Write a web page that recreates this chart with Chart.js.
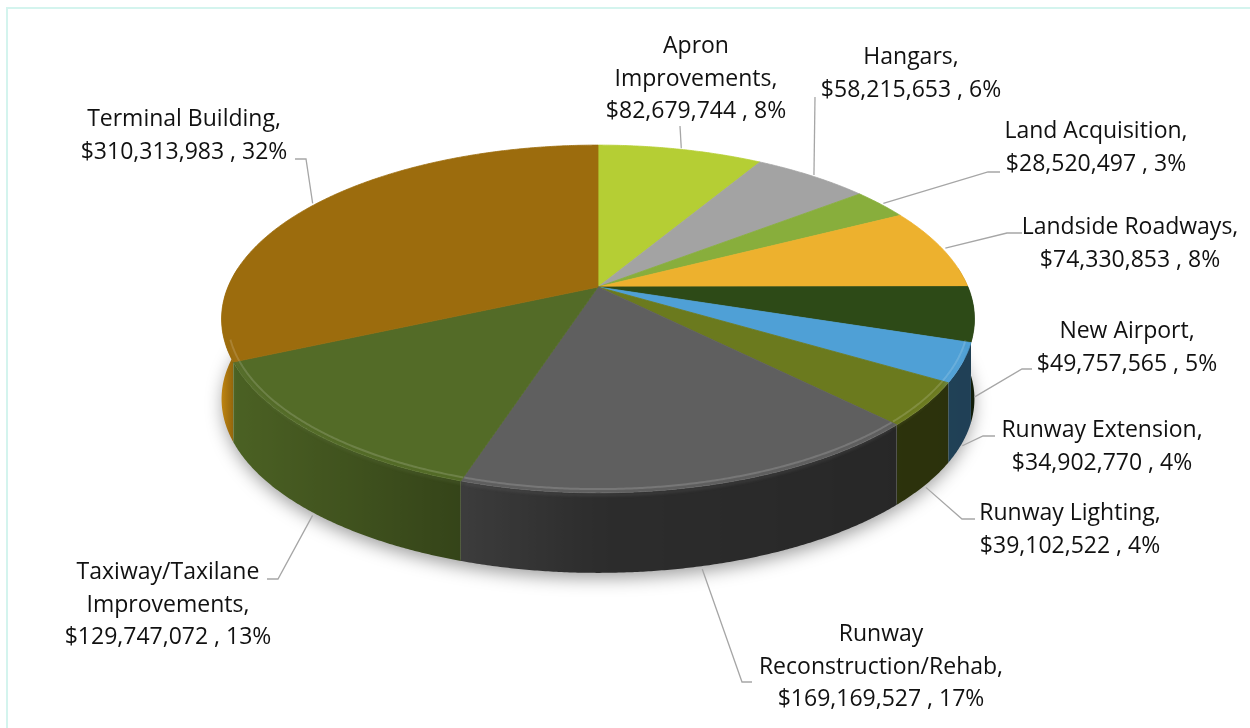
<!DOCTYPE html>
<html>
<head>
<meta charset="utf-8">
<title>Capital Improvement Costs by Project Type</title>
<script src="https://cdn.jsdelivr.net/npm/chart.js@4.4.1/dist/chart.umd.min.js"></script>
<style>
  html, body { margin: 0; padding: 0; background: #fff; }
  canvas { display: block; }
</style>
</head>
<body>
<canvas id="costChart" width="1250" height="728"></canvas>
<script>
/* ---------------------------------------------------------
   Data
--------------------------------------------------------- */
const categories = [
  "Apron Improvements",
  "Hangars",
  "Land Acquisition",
  "Landside Roadways",
  "New Airport",
  "Runway Extension",
  "Runway Lighting",
  "Runway Reconstruction/Rehab",
  "Taxiway/Taxilane Improvements",
  "Terminal Building",
];
const costs = [
  82679744, 58215653, 28520497, 74330853, 49757565,
  34902770, 39102522, 169169527, 129747072, 310313983,
];
const sliceColors = [
  "#B5CE34", "#A3A3A3", "#88AE3C", "#EDB12E", "#2D4A17",
  "#4FA0D6", "#6B7A1E", "#5F5F5F", "#536B27", "#9C6C0D",
];

/* ---------------------------------------------------------
   Layout: 3D projection + label placement (pixels)
--------------------------------------------------------- */
const GEO = { rx: 370, ry: 168, depth: 80, persp: 0.184 };
const FONT = '23px "Open Sans", "Liberation Sans", sans-serif';
const LINE_H = 32.7;

// label text block (centre x, first baseline y) and leader path after the anchor
const labelLayout = [
  { x: 696,  y: 53,  split: true, path: [[680, 126]] },
  { x: 911,  y: 64,  path: [[815, 97]] },
  { x: 1096, y: 138, path: [[988, 172], [1000, 172]] },
  { x: 1130, y: 234, path: [[1007, 233], [1022, 233]] },
  { x: 1127, y: 338, path: [[1022, 369], [1032, 369]] },
  { x: 1102, y: 437, path: [[983, 436], [995, 436]] },
  { x: 1070, y: 520, path: [[962, 519], [975, 519]] },
  { x: 881,  y: 641, split: true, path: [[742, 682], [752, 682]] },
  { x: 168,  y: 579, split: true, path: [[278, 579], [267, 579]] },
  { x: 184,  y: 126, path: [[306, 159], [295, 159]] },
];

/* ---------------------------------------------------------
   Colour helpers
--------------------------------------------------------- */
function rgbOf(hex) {
  const n = parseInt(hex.slice(1), 16);
  return [(n >> 16) & 255, (n >> 8) & 255, n & 255];
}
function shade(hex, f) {
  const c = rgbOf(hex).map((v) => Math.max(0, Math.min(255, Math.round(v * f))));
  return `rgb(${c[0]},${c[1]},${c[2]})`;
}
function tint(hex, t, alpha) {
  const c = rgbOf(hex).map((v) => Math.round(v + (255 - v) * t));
  return `rgba(${c[0]},${c[1]},${c[2]},${alpha})`;
}
// wall brightness: lit from the left (narrow glint on the far edge), dark on the right
function wallLight(u) {
  if (u >= 0) return 0.47 - 0.07 * u;
  const glint = Math.max(0, -u - 0.965) / 0.035;
  return 0.47 + 0.45 * -u + 0.3 * glint;
}
function money(v) {
  return "$" + v.toLocaleString("en-US");
}

/* ---------------------------------------------------------
   3D pie plugin: draws the library's arcs as a tilted disc
--------------------------------------------------------- */
const pie3d = {
  id: "pie3d",
  beforeDraw(chart) {
    const ctx = chart.ctx;
    ctx.save();
    ctx.fillStyle = "#fff";
    ctx.fillRect(0, 0, chart.width, chart.height);
    ctx.strokeStyle = "#D4F4EE";
    ctx.lineWidth = 2;
    ctx.strokeRect(7, 8, chart.width + 40, chart.height + 40);
    ctx.restore();
  },
  beforeDatasetsDraw(chart) {
    const ctx = chart.ctx;
    const arcs = chart.getDatasetMeta(0).data;
    const cx = arcs[0].x, cy = arcs[0].y;

    const proj = (a, r = 1, dz = 0) => {
      const u = Math.cos(a) * r, v = Math.sin(a) * r;
      const w = 1 / (1 - GEO.persp * v);
      return [cx + GEO.rx * u * w, cy + GEO.ry * v * w + dz];
    };
    const step = 0.006;

    ctx.save();

    // soft drop shadow under the disc
    ctx.beginPath();
    for (let a = 0; a <= Math.PI * 2 + step; a += step) {
      const [x, y] = proj(a, 0.995, GEO.depth);
      a === 0 ? ctx.moveTo(x, y) : ctx.lineTo(x, y);
    }
    ctx.closePath();
    ctx.shadowColor = "rgba(0,0,0,0.4)";
    ctx.shadowBlur = 18;
    ctx.shadowOffsetY = 6;
    ctx.fillStyle = "#fff";
    ctx.fill();
    ctx.shadowColor = "transparent";

    // side walls: one polygon per slice, visible part only, back to front
    const walls = [];
    arcs.forEach((arc, i) => {
      const pts = [];
      for (let a = arc.startAngle; a < arc.endAngle; a += step) {
        if (Math.sin(a) > -0.12) pts.push(a);
      }
      if (Math.sin(arc.endAngle) > -0.12) pts.push(arc.endAngle);
      if (pts.length < 2) return;
      const mid = (pts[0] + pts[pts.length - 1]) / 2;
      walls.push({ pts, v: Math.sin(mid), color: sliceColors[i] });
    });
    walls.sort((p, q) => p.v - q.v);
    const half = GEO.rx * 1.017;
    const gx0 = cx - half, gx1 = cx + half;
    walls.forEach((wl) => {
      ctx.beginPath();
      wl.pts.forEach((a, k) => {
        const [x, y] = proj(a);
        k === 0 ? ctx.moveTo(x, y) : ctx.lineTo(x, y);
      });
      for (let k = wl.pts.length - 1; k >= 0; k--) {
        const [x, y] = proj(wl.pts[k], 1, GEO.depth);
        ctx.lineTo(x, y);
      }
      ctx.closePath();
      const grad = ctx.createLinearGradient(gx0, 0, gx1, 0);
      const n = 200;
      for (let s = 0; s <= n; s++) {
        grad.addColorStop(s / n, shade(wl.color, wallLight(-1 + (2 * s) / n)));
      }
      ctx.fillStyle = grad;
      ctx.fill();
    });

    // top face slices
    arcs.forEach((arc, i) => {
      ctx.beginPath();
      ctx.moveTo(cx, cy);
      for (let a = arc.startAngle; a < arc.endAngle; a += step) {
        const [x, y] = proj(a);
        ctx.lineTo(x, y);
      }
      const [ex, ey] = proj(arc.endAngle);
      ctx.lineTo(ex, ey);
      ctx.closePath();
      ctx.fillStyle = sliceColors[i];
      ctx.strokeStyle = sliceColors[i];
      ctx.lineWidth = 0.8;
      ctx.fill();
      ctx.stroke();
    });

    // bevel highlight along the front rim
    arcs.forEach((arc, i) => {
      let started = false;
      ctx.beginPath();
      for (let a = arc.startAngle; a <= arc.endAngle; a += step) {
        if (Math.sin(a) < 0.3) { started = false; continue; }
        const [x, y] = proj(a, 0.985);
        if (!started) { ctx.moveTo(x, y); started = true; } else ctx.lineTo(x, y);
      }
      ctx.strokeStyle = tint(sliceColors[i], 0.3, 0.5);
      ctx.lineWidth = 2;
      ctx.shadowColor = tint(sliceColors[i], 0.2, 0.5);
      ctx.shadowBlur = 3;
      ctx.stroke();
      ctx.shadowColor = "transparent";
    });

    // labels + leader lines
    const total = costs.reduce((s, v) => s + v, 0);
    ctx.font = FONT;
    ctx.textAlign = "center";
    ctx.textBaseline = "alphabetic";
    arcs.forEach((arc, i) => {
      const lay = labelLayout[i];
      const mid = (arc.startAngle + arc.endAngle) / 2;
      const anchor = Math.sin(mid) > 0.1 ? proj(mid, 1, GEO.depth + 3) : proj(mid, 1.01);

      ctx.beginPath();
      ctx.moveTo(anchor[0], anchor[1]);
      lay.path.forEach(([x, y]) => ctx.lineTo(x, y));
      ctx.strokeStyle = "#A6A6A6";
      ctx.lineWidth = 1.3;
      ctx.stroke();

      const name = categories[i] + ",";
      const cut = name.indexOf(" ");
      const lines = lay.split ? [name.slice(0, cut), name.slice(cut + 1)] : [name];
      lines.push(`${money(costs[i])} , ${Math.round((costs[i] / total) * 100)}%`);
      ctx.fillStyle = "#111";
      lines.forEach((t, k) => ctx.fillText(t, lay.x, lay.y + k * LINE_H));
    });

    ctx.restore();
    return false; // flat arcs are replaced by the 3D drawing
  },
};

/* ---------------------------------------------------------
   Chart
--------------------------------------------------------- */
new Chart(document.getElementById("costChart").getContext("2d"), {
  type: "pie",
  data: {
    labels: categories,
    datasets: [
      {
        data: costs,
        backgroundColor: sliceColors,
        borderWidth: 0,
      },
    ],
  },
  options: {
    responsive: false,
    animation: false,
    layout: { padding: { left: 0, right: 54, top: 0, bottom: 154 } },
    plugins: {
      legend: { display: false },
      tooltip: { enabled: false },
    },
  },
  plugins: [pie3d],
});
</script>
</body>
</html>
